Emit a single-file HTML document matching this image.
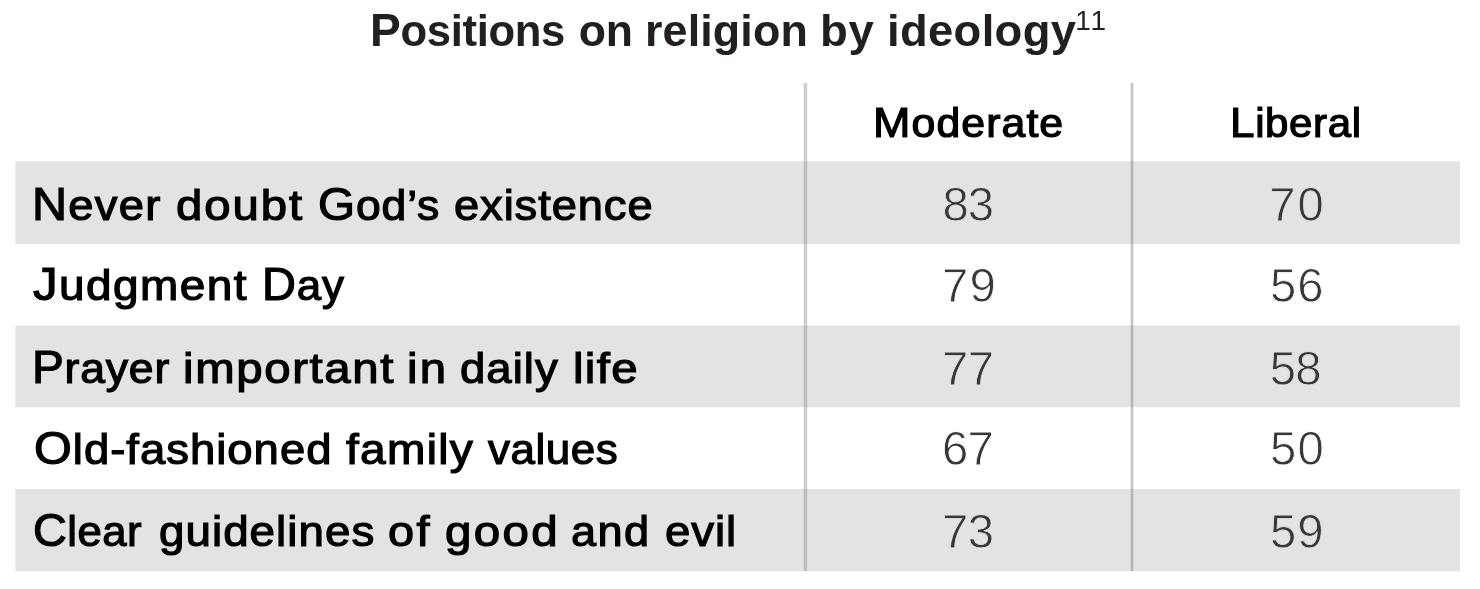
<!DOCTYPE html>
<html lang="en">
<head>
<meta charset="utf-8">
<title>Positions on religion by ideology</title>
<style>
html,body{margin:0;padding:0;background:#fff;}
body{width:1480px;height:589px;position:relative;overflow:hidden;font-family:"Liberation Sans",sans-serif;}
#chart{position:absolute;left:0;top:0;width:1480px;height:589px;}
#bg{position:absolute;left:0;top:0;}
.t{position:absolute;left:0;white-space:pre;line-height:1;margin:0;padding:0;}
.t span{display:inline-block;vertical-align:baseline;transform-origin:0 0;}
.title{font-weight:700;font-size:44.5px;color:#231f20;}
.title sup{font-weight:400;-webkit-text-stroke:0;font-kerning:none;font-size:28.0px;letter-spacing:-0.3px;line-height:1;vertical-align:baseline;}
.hd{font-weight:400;font-size:40.0px;color:#000;-webkit-text-stroke:1.2px #000;}
.lb{font-weight:400;font-size:42.5px;color:#000;-webkit-text-stroke:1.2px #000;}
.nm{font-weight:400;font-size:47.3px;color:#38383a;-webkit-text-stroke:0.8px #ffffff;}
.nm.g{-webkit-text-stroke-color:#e2e3e5;}
.title .c::first-letter{font-size:47.0px;line-height:0;}
.hd .c::first-letter{font-size:42.0px;line-height:0;}
.lb .c::first-letter{font-size:45.5px;line-height:0;}
</style>
</head>
<body>
<div id="chart">
<svg id="bg" width="1480" height="589" viewBox="0 0 1480 589">
<rect x="15.4" y="161.4" width="1444.6" height="82.6" fill="#e2e3e5"/>
<rect x="15.4" y="325.5" width="1444.6" height="81.7" fill="#e2e3e5"/>
<rect x="15.4" y="489" width="1444.6" height="82.1" fill="#e2e3e5"/>
<rect x="803.7" y="83" width="3.5" height="488.1" fill="#8e9093" fill-opacity="0.44"/>
<rect x="1130.7" y="83" width="2.6" height="488.1" fill="#7c7e81" fill-opacity="0.46"/>
</svg>
<h1 class="t title" style="left:370.0px;top:9px"><span class="c" style="width:208.7px;letter-spacing:-0.33px;transform:scaleX(0.980)">Positions </span><span style="width:66.7px;letter-spacing:-0.01px">on </span><span style="width:174.2px;letter-spacing:0.12px;transform:scaleX(1.008)">religion </span><span style="width:67.6px;letter-spacing:0.73px;transform:scaleX(1.023)">by </span><span style="letter-spacing:0.33px;transform:scaleX(1.020)">ideology</span><sup style="position:absolute;left:705.3px;top:-2.0px">11</sup></h1>
<div role="table">
<div role="row">
<div role="columnheader" class="t hd" style="left:873.4px;top:103px"><span class="c" style="letter-spacing:1.03px;transform:scaleX(1.069)">Moderate</span></div>
<div role="columnheader" class="t hd" style="left:1230.0px;top:103px"><span class="c" style="letter-spacing:0.61px;transform:scaleX(1.049)">Liberal</span></div>
</div>
<div role="row">
<div role="rowheader" class="t lb" style="left:32.3px;top:185px"><span class="c" style="width:144.2px;letter-spacing:1.19px;transform:scaleX(1.067)">Never </span><span style="width:141.4px;letter-spacing:1.77px;transform:scaleX(1.112)">doubt </span><span class="c" style="width:136.0px;letter-spacing:0.83px;transform:scaleX(1.047)">God’s </span><span style="letter-spacing:0.88px;transform:scaleX(1.064)">existence</span></div>
<div role="cell" class="t nm g" style="left:942.6px;top:181px"><span style="letter-spacing:-1.27px">83</span></div>
<div role="cell" class="t nm g" style="left:1269.3px;top:181px"><span style="letter-spacing:1.84px">70</span></div>
</div>
<div role="row">
<div role="rowheader" class="t lb" style="left:33.4px;top:265px"><span class="c" style="width:228.5px;letter-spacing:1.35px;transform:scaleX(1.081)">Judgment </span><span class="c" style="letter-spacing:0.77px;transform:scaleX(1.032)">Day</span></div>
<div role="cell" class="t nm" style="left:942.0px;top:262px"><span style="letter-spacing:1.23px">79</span></div>
<div role="cell" class="t nm" style="left:1270.0px;top:262px"><span style="letter-spacing:0.83px">56</span></div>
</div>
<div role="row">
<div role="rowheader" class="t lb" style="left:32.3px;top:348px"><span class="c" style="width:150.5px;letter-spacing:0.76px;transform:scaleX(1.048)">Prayer </span><span style="width:224.6px;letter-spacing:1.49px;transform:scaleX(1.113)">important </span><span style="width:52.3px;letter-spacing:1.98px;transform:scaleX(1.114)">in </span><span style="width:113.4px;letter-spacing:0.96px;transform:scaleX(1.071)">daily </span><span style="letter-spacing:1.17px;transform:scaleX(1.115)">life</span></div>
<div role="cell" class="t nm g" style="left:942.0px;top:345px"><span style="letter-spacing:-0.56px">77</span></div>
<div role="cell" class="t nm g" style="left:1269.7px;top:345px"><span style="letter-spacing:-0.67px">58</span></div>
</div>
<div role="row">
<div role="rowheader" class="t lb" style="left:33.5px;top:429px"><span class="c" style="width:312.1px;letter-spacing:0.94px;transform:scaleX(1.069)">Old-fashioned </span><span style="width:142.4px;letter-spacing:1.16px;transform:scaleX(1.085)">family </span><span style="letter-spacing:0.54px;transform:scaleX(1.034)">values</span></div>
<div role="cell" class="t nm" style="left:942.0px;top:425px"><span style="letter-spacing:-0.76px">67</span></div>
<div role="cell" class="t nm" style="left:1270.0px;top:425px"><span style="letter-spacing:1.14px">50</span></div>
</div>
<div role="row">
<div role="rowheader" class="t lb" style="left:33.1px;top:511px"><span class="c" style="width:125.5px;letter-spacing:0.46px;transform:scaleX(1.028)">Clear </span><span style="width:229.9px;letter-spacing:0.98px;transform:scaleX(1.075)">guidelines </span><span style="width:56.2px;letter-spacing:2.20px;transform:scaleX(1.104)">of </span><span style="width:126.2px;letter-spacing:2.13px;transform:scaleX(1.117)">good </span><span style="width:94.4px;letter-spacing:1.32px;transform:scaleX(1.062)">and </span><span style="letter-spacing:0.89px;transform:scaleX(1.071)">evil</span></div>
<div role="cell" class="t nm g" style="left:942.0px;top:508px"><span style="letter-spacing:-0.65px">73</span></div>
<div role="cell" class="t nm g" style="left:1270.0px;top:508px"><span style="letter-spacing:0.83px">59</span></div>
</div>
</div>
</div>
</body>
</html>
